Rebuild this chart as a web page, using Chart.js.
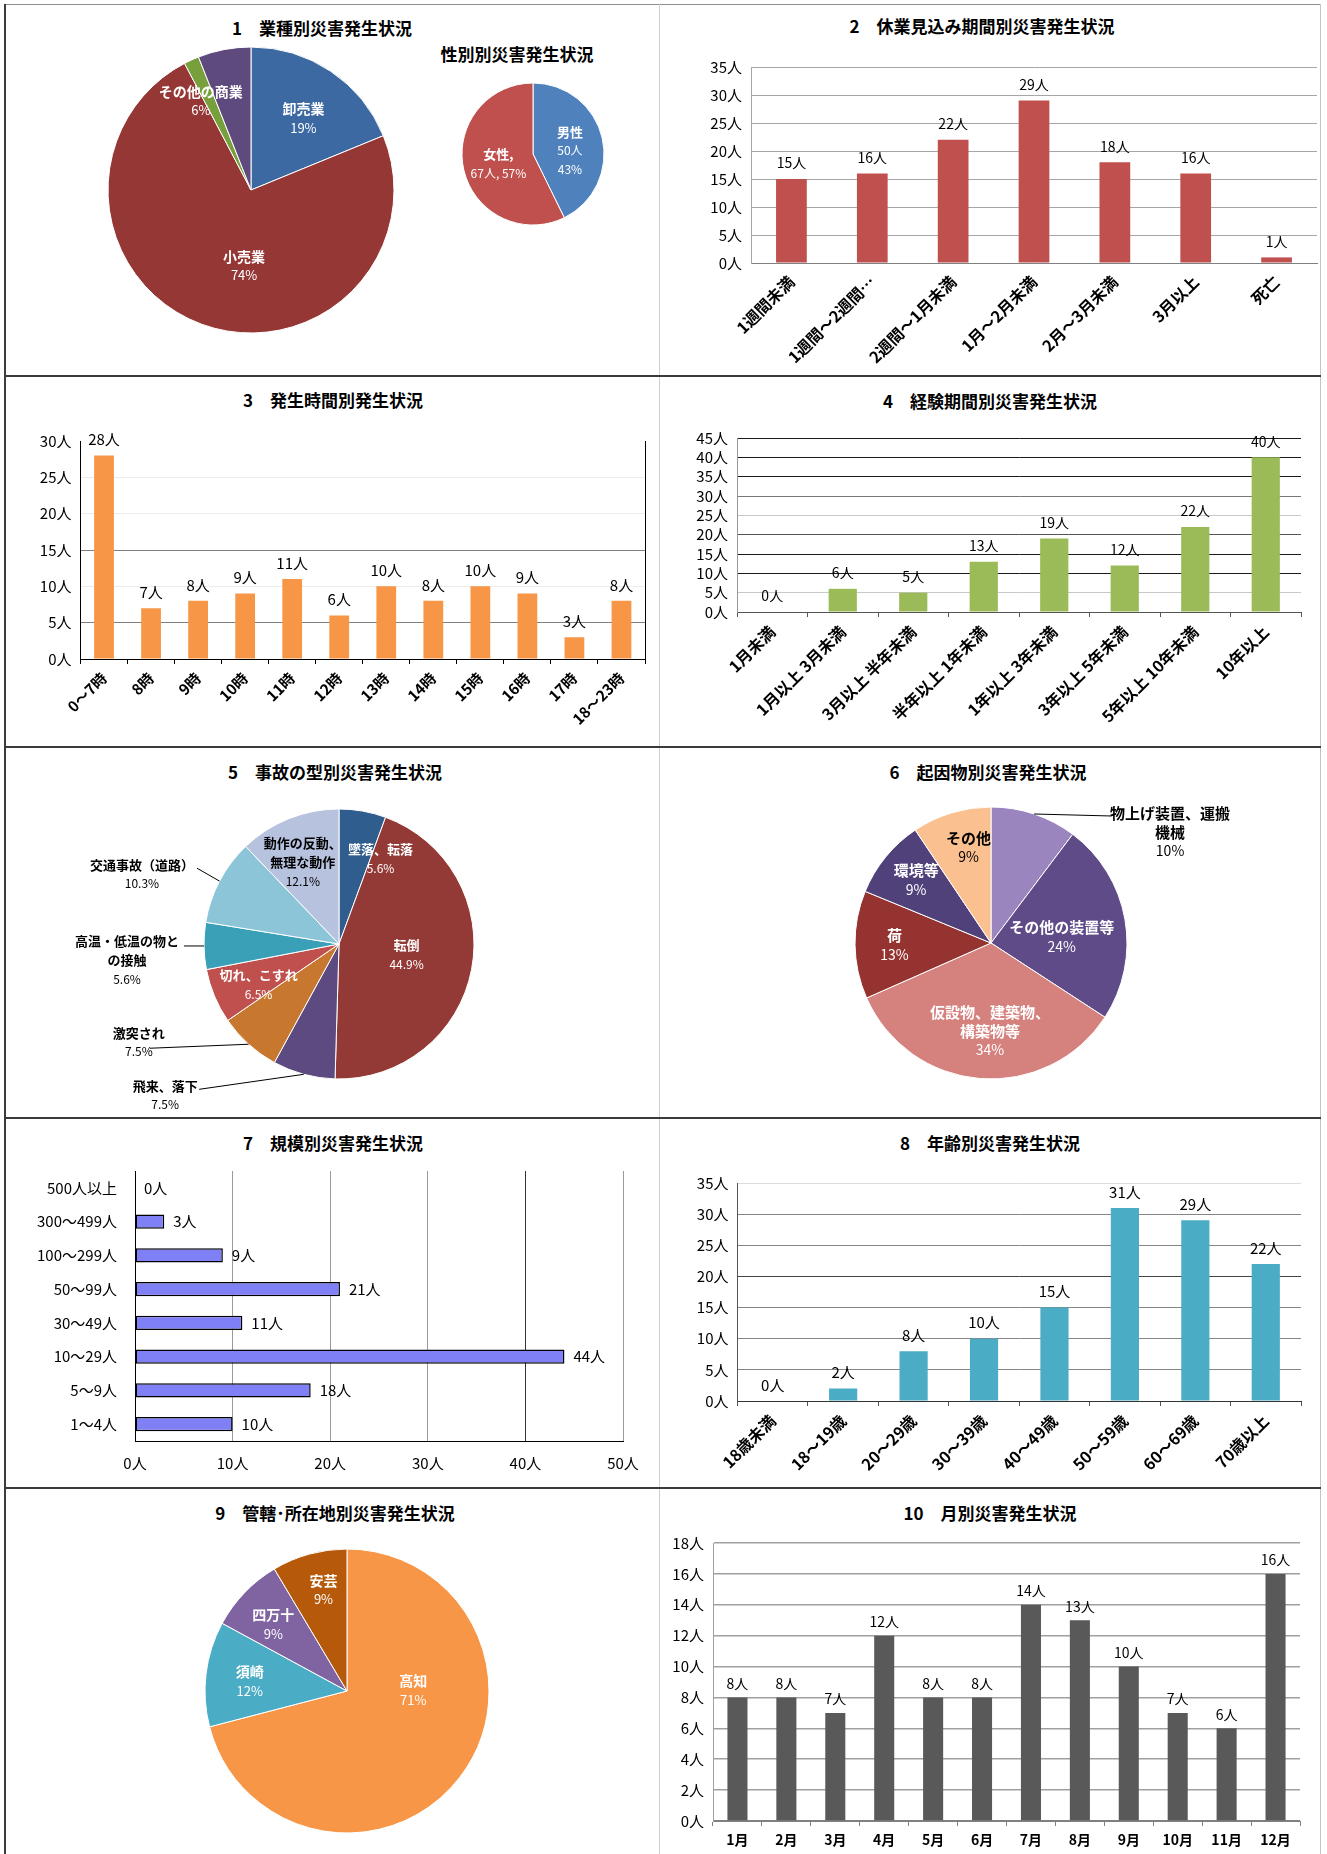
<!DOCTYPE html>
<html lang="ja">
<head>
<meta charset="utf-8">
<title>災害発生状況</title>
<script src="https://cdn.jsdelivr.net/npm/chart.js@4.4.1/dist/chart.umd.min.js"></script>
<style>
  html, body { margin: 0; padding: 0; background: #fff; }
  #sheet { position: relative; width: 1327px; height: 1854px; overflow: hidden; background: #fff; }
  #sheet canvas, #sheet .rule, #sheet .ttl { position: absolute; }
  .ttl { transform: translate(-50%, -50%); font: bold 17px 'Noto Sans CJK JP', sans-serif; color: #000; white-space: nowrap; }
</style>
</head>
<body>
<div id="sheet"></div>
<script>
// 1 業種別
const industryLabels = ['卸売業', '小売業', 'その他', 'その他の商業'];
const industryCounts = [22, 86, 2, 7];

// 性別
const sexLabels = ['男性', '女性'];
const sexCounts = [50, 67];

// 2 休業見込み期間別
const leaveLabels = ['1週間未満', '1週間～2週間…', '2週間～1月未満', '1月～2月未満', '2月～3月未満', '3月以上', '死亡'];
const leaveCounts = [15, 16, 22, 29, 18, 16, 1];
const leaveTicks = [0, 5, 10, 15, 20, 25, 30, 35];

// 3 発生時間別
const hourLabels = ['0～7時', '8時', '9時', '10時', '11時', '12時', '13時', '14時', '15時', '16時', '17時', '18～23時'];
const hourCounts = [28, 7, 8, 9, 11, 6, 10, 8, 10, 9, 3, 8];
const hourTicks = [0, 5, 10, 15, 20, 25, 30];

// 4 経験期間別
const careerLabels = ['1月未満', '1月以上 3月未満', '3月以上 半年未満', '半年以上 1年未満', '1年以上 3年未満', '3年以上 5年未満', '5年以上 10年未満', '10年以上'];
const careerCounts = [0, 6, 5, 13, 19, 12, 22, 40];
const careerTicks = [0, 5, 10, 15, 20, 25, 30, 35, 40, 45];

// 5 事故の型別
const accidentLabels = ['墜落、転落', '転倒', '飛来、落下', '激突され', '切れ、こすれ', ['高温・低温の物と', 'の接触'], '交通事故（道路）', ['動作の反動、', '無理な動作']];
const accidentCounts = [6, 48, 8, 8, 7, 6, 11, 13];

// 6 起因物別
const causeLabels = [['物上げ装置、運搬', '機械'], 'その他の装置等', ['仮設物、建築物、', '構築物等'], '荷', '環境等', 'その他'];
const causeCounts = [12, 28, 40, 15, 11, 11];

// 7 規模別
const sizeLabels = ['500人以上', '300～499人', '100～299人', '50～99人', '30～49人', '10～29人', '5～9人', '1～4人'];
const sizeCounts = [0, 3, 9, 21, 11, 44, 18, 10];
const sizeTicks = [0, 10, 20, 30, 40, 50];

// 8 年齢別
const ageLabels = ['18歳未満', '18～19歳', '20～29歳', '30～39歳', '40～49歳', '50～59歳', '60～69歳', '70歳以上'];
const ageCounts = [0, 2, 8, 10, 15, 31, 29, 22];
const ageTicks = [0, 5, 10, 15, 20, 25, 30, 35];

// 9 管轄・所在地別
const officeLabels = ['高知', '須崎', '四万十', '安芸'];
const officeCounts = [83, 14, 10, 10];

// 10 月別
const monthLabels = ['1月', '2月', '3月', '4月', '5月', '6月', '7月', '8月', '9月', '10月', '11月', '12月'];
const monthCounts = [8, 8, 7, 12, 8, 8, 14, 13, 10, 7, 6, 16];
const monthTicks = [0, 2, 4, 6, 8, 10, 12, 14, 16, 18];

const FONT = "'Noto Sans CJK JP', 'Noto Sans', sans-serif";
Chart.defaults.font.family = FONT;
Chart.defaults.color = '#000';
Chart.defaults.animation = false;
Chart.defaults.responsive = false;
Chart.defaults.plugins.legend.display = false;
Chart.defaults.plugins.tooltip.enabled = false;

// 枠の区切り位置
const COLS = [5, 660, 1321];
const ROWS = [5, 376, 747, 1118, 1488, 1854];

function cell(col, row) {
    return { x: COLS[col], y: ROWS[row], w: COLS[col + 1] - COLS[col], h: ROWS[row + 1] - ROWS[row] };
}

// 棒の上（横棒なら右）に「○人」
const valueLabels = {
    id: 'valueLabels',
    afterDatasetsDraw(chart, args, opts) {
        const { ctx } = chart;
        const horizontal = chart.options.indexAxis === 'y';
        const values = chart.data.datasets[0].data;
        ctx.save();
        ctx.font = `${opts.size || 14}px ${FONT}`;
        ctx.fillStyle = '#000';
        ctx.textBaseline = 'middle';
        chart.getDatasetMeta(0).data.forEach((bar, i) => {
            const text = values[i] + '人';
            if (horizontal) {
                ctx.textAlign = 'left';
                ctx.fillText(text, bar.x + (opts.gap || 9), bar.y);
            } else {
                ctx.textAlign = 'center';
                ctx.fillText(text, bar.x, bar.y - (opts.gap || 16));
            }
        });
        ctx.restore();
    }
};

// プロット右端の縦線
const plotFrame = {
    id: 'plotFrame',
    afterDraw(chart, args, opts) {
        if (!opts.right) return;
        const { ctx, chartArea: a } = chart;
        ctx.save();
        ctx.strokeStyle = opts.right;
        ctx.lineWidth = 1;
        ctx.beginPath();
        ctx.moveTo(Math.round(a.right) + 0.5, a.top);
        ctx.lineTo(Math.round(a.right) + 0.5, a.bottom);
        ctx.stroke();
        ctx.restore();
    }
};

// 円グラフのラベル（項目名＋割合、必要なら引出線）
const sliceLabels = {
    id: 'sliceLabels',
    afterDatasetsDraw(chart, args, opts) {
        const { ctx } = chart;
        const values = chart.data.datasets[0].data;
        const total = values.reduce((a, b) => a + b, 0);
        const names = chart.data.labels;
        ctx.save();
        ctx.textAlign = 'center';
        ctx.textBaseline = 'middle';
        chart.getDatasetMeta(0).data.forEach((arc, i) => {
            const spot = opts.spots[i];
            if (!spot) return;
            const { x, y, startAngle, endAngle, outerRadius } =
                arc.getProps(['x', 'y', 'startAngle', 'endAngle', 'outerRadius'], true);
            const mid = (startAngle + endAngle) / 2;
            const pct = (values[i] / total * 100).toFixed(opts.digits || 0) + '%';
            const name = [].concat(names[i]);
            let lines;
            if (spot.inline) {
                lines = [[name.join('') + ',', true], [`${values[i]}人, ${pct}`, false]];
            } else if (opts.showCount) {
                lines = [...name.map(n => [n, true]), [values[i] + '人', false], [pct, false]];
            } else {
                lines = [...name.map(n => [n, true]), [pct, false]];
            }

            let cx, cy;
            if (spot.leader) {
                const ex = x + Math.cos(mid) * outerRadius;
                const ey = y + Math.sin(mid) * outerRadius;
                ctx.strokeStyle = '#000';
                ctx.lineWidth = 1;
                ctx.beginPath();
                ctx.moveTo(ex, ey);
                ctx.lineTo(ex + spot.leader[0], ey + spot.leader[1]);
                ctx.stroke();
                cx = ex + spot.dx;
                cy = ey + spot.dy;
            } else {
                cx = x + Math.cos(mid) * outerRadius * spot.f + spot.dx;
                cy = y + Math.sin(mid) * outerRadius * spot.f + spot.dy;
            }

            ctx.fillStyle = opts.colors[i];
            lines.forEach(([text, bold], k) => {
                ctx.font = bold ? `bold ${opts.size}px ${FONT}` : `${opts.size - 1}px ${FONT}`;
                ctx.fillText(text, cx, cy + (k - (lines.length - 1) / 2) * opts.lineHeight);
            });
        });
        ctx.restore();
    }
};

const shade = (map, fallback) => v => (v in map ? map[v] : fallback);

class DisasterReport {
    constructor() {
        this.sheet = document.getElementById('sheet');
        this.charts = {};
        this.init();
    }

    init() {
        this.drawFrame();
        this.drawTitles();
        this.renderIndustry();
        this.renderSex();
        this.renderLeave();
        this.renderHours();
        this.renderCareer();
        this.renderAccidentType();
        this.renderCause();
        this.renderSize();
        this.renderAge();
        this.renderOffice();
        this.renderMonth();
    }

    canvas(box) {
        const c = document.createElement('canvas');
        c.width = box.w;
        c.height = box.h;
        c.style.left = box.x + 'px';
        c.style.top = box.y + 'px';
        this.sheet.appendChild(c);
        return c;
    }

    drawFrame() {
        const rules = [
            [5, 4, 1316, 1, '#8c8c8c'],
            [4, 4, 2, 1850, '#3c3c3c'],
            [1320, 4, 1, 1850, '#c4c4c4'],
            [659, 4, 1, 1850, '#cfcfcf'],
            ...ROWS.slice(1, -1).map(y => [4, y - 1, 1317, 2, '#3a3a3a'])
        ];
        rules.forEach(([x, y, w, h, color]) => {
            const d = document.createElement('div');
            d.className = 'rule';
            Object.assign(d.style, { left: x + 'px', top: y + 'px', width: w + 'px', height: h + 'px', background: color });
            this.sheet.appendChild(d);
        });
    }

    drawTitles() {
        const titles = [
            ['1　業種別災害発生状況', 322, 27],
            ['性別別災害発生状況', 517, 53],
            ['2　休業見込み期間別災害発生状況', 982, 25],
            ['3　発生時間別発生状況', 333, 399],
            ['4　経験期間別災害発生状況', 990, 400],
            ['5　事故の型別災害発生状況', 335, 771],
            ['6　起因物別災害発生状況', 988, 771],
            ['7　規模別災害発生状況', 333, 1142],
            ['8　年齢別災害発生状況', 990, 1142],
            ['9　管轄･所在地別災害発生状況', 335, 1512],
            ['10　月別災害発生状況', 990, 1512]
        ];
        titles.forEach(([text, x, y]) => {
            const d = document.createElement('div');
            d.className = 'ttl';
            d.textContent = text;
            d.style.left = x + 'px';
            d.style.top = y + 'px';
            this.sheet.appendChild(d);
        });
    }

    pieChart(box, center, radius, o) {
        const [cx, cy] = center;
        return new Chart(this.canvas(box), {
            type: 'pie',
            data: {
                labels: o.labels,
                datasets: [{
                    data: o.values,
                    backgroundColor: o.colors,
                    borderColor: '#ffffff',
                    borderWidth: 1,
                    radius: radius
                }]
            },
            options: {
                layout: {
                    padding: {
                        left: cx - radius - box.x,
                        top: cy - radius - box.y,
                        right: box.x + box.w - cx - radius,
                        bottom: box.y + box.h - cy - radius
                    }
                },
                plugins: {
                    sliceLabels: {
                        spots: o.spots,
                        colors: o.textColors,
                        size: o.size || 14,
                        lineHeight: o.lineHeight || 19,
                        digits: o.digits || 0,
                        showCount: !!o.showCount
                    }
                }
            },
            plugins: [sliceLabels]
        });
    }

    columnChart(box, plot, o) {
        const [l, t, r, b] = plot;
        const yWidth = l - box.x;
        const xHeight = box.y + box.h - b;
        return new Chart(this.canvas(box), {
            type: 'bar',
            data: {
                labels: o.labels,
                datasets: [{
                    data: o.values,
                    backgroundColor: o.color,
                    barPercentage: o.barPct,
                    categoryPercentage: 1
                }]
            },
            options: {
                layout: { padding: { left: 0, top: t - box.y, right: box.x + box.w - r, bottom: 0 } },
                plugins: {
                    valueLabels: { gap: o.gap || 16, size: o.valueSize || 14 },
                    plotFrame: { right: o.frameRight || null }
                },
                scales: {
                    x: {
                        grid: {
                            drawOnChartArea: false,
                            drawTicks: !!o.tickMarks,
                            tickLength: 5,
                            color: o.tickMarks || 'transparent'
                        },
                        border: { color: o.xBorder, width: 1 },
                        ticks: {
                            autoSkip: false,
                            minRotation: o.rotate || 0,
                            maxRotation: o.rotate || 0,
                            padding: o.xPad,
                            font: { size: o.xSize || 16, weight: 'bold' }
                        },
                        afterFit: s => { s.height = xHeight; }
                    },
                    y: {
                        min: o.ticks[0],
                        max: o.ticks[o.ticks.length - 1],
                        grid: {
                            drawTicks: false,
                            lineWidth: o.gridWidth || 1,
                            color: c => o.grid(c.tick ? c.tick.value : 0)
                        },
                        border: { color: o.yBorder, width: 1 },
                        ticks: {
                            autoSkip: false,
                            stepSize: o.ticks[1] - o.ticks[0],
                            padding: 9,
                            font: { size: 15 },
                            callback: v => v + '人'
                        },
                        afterFit: s => { s.width = yWidth; }
                    }
                }
            },
            plugins: [valueLabels, plotFrame]
        });
    }

    renderIndustry() {
        this.charts.industry = this.pieChart(cell(0, 0), [251, 190], 143, {
            labels: industryLabels,
            values: industryCounts,
            colors: ['#3d69a2', '#953735', '#77a03c', '#5f4a7d'],
            textColors: ['#fff', '#fff', '#fff', '#fff'],
            size: 14,
            spots: [
                { f: 0.62, dx: 3, dy: 2 },
                { f: 0.55, dx: 20, dy: 2 },
                null,
                { f: 0.72, dx: -31, dy: 12 }
            ]
        });
    }

    renderSex() {
        this.charts.sex = this.pieChart(cell(0, 0), [533, 154], 71, {
            labels: sexLabels,
            values: sexCounts,
            colors: ['#4f81bd', '#c0504d'],
            textColors: ['#fff', '#fff'],
            size: 13,
            showCount: true,
            spots: [
                { f: 0.52, dx: 1, dy: 5 },
                { f: 0.5, dx: 0, dy: 2, inline: true }
            ]
        });
    }

    renderLeave() {
        this.charts.leave = this.columnChart(cell(1, 0), [751, 67, 1317, 263], {
            labels: leaveLabels,
            values: leaveCounts,
            ticks: leaveTicks,
            color: '#c0504d',
            barPct: 0.38,
            grid: v => (v === 0 ? '#808080' : '#a6a6a6'),
            yBorder: '#a6a6a6',
            xBorder: '#808080',
            rotate: 45,
            xPad: 9
        });
    }

    renderHours() {
        this.charts.hours = this.columnChart(cell(0, 1), [80.5, 441, 645, 659], {
            labels: hourLabels,
            values: hourCounts,
            ticks: hourTicks,
            color: '#f79646',
            barPct: 0.42,
            valueSize: 15,
            grid: shade({ 0: '#000', 5: '#7f7f7f', 15: '#7f7f7f', 30: 'transparent' }, '#ececec'),
            yBorder: '#000',
            xBorder: '#000',
            tickMarks: '#000',
            frameRight: '#000',
            rotate: 45,
            xSize: 15,
            xPad: 5
        });
    }

    renderCareer() {
        this.charts.career = this.columnChart(cell(1, 1), [737, 438, 1301, 612], {
            labels: careerLabels,
            values: careerCounts,
            ticks: careerTicks,
            color: '#9bbb59',
            barPct: 0.4,
            grid: shade({ 0: '#555', 5: '#c8c8c8', 20: '#555', 25: '#c8c8c8', 30: '#777' }, '#1a1a1a'),
            yBorder: '#999',
            xBorder: '#555',
            tickMarks: '#555',
            rotate: 45,
            xPad: 5
        });
    }

    renderAccidentType() {
        this.charts.accident = this.pieChart(cell(0, 2), [339, 944], 135, {
            labels: accidentLabels,
            values: accidentCounts,
            colors: ['#2f5d8e', '#943a36', '#5d4a80', '#c8772f', '#c0504d', '#3aa0b8', '#8cc4d8', '#b6c2de'],
            textColors: ['#fff', '#fff', '#000', '#000', '#fff', '#000', '#000', '#000'],
            size: 13,
            digits: 1,
            spots: [
                { f: 0.70, dx: 25, dy: 8 },
                { f: 0.51, dx: 0, dy: -2 },
                { leader: [-104.6, 15], dx: -138.6, dy: 21 },
                { leader: [-98.7, 4], dx: -109.7, dy: -2 },
                { f: 0.67, dx: 3, dy: 6 },
                { leader: [-20, 0], dx: -77, dy: 14 },
                { leader: [-22.6, -13], dx: -77.6, dy: -7 },
                { f: 0.66, dx: -3, dy: 1 }
            ]
        });
    }

    renderCause() {
        this.charts.cause = this.pieChart(cell(1, 2), [991, 943], 136, {
            labels: causeLabels,
            values: causeCounts,
            colors: ['#9a85be', '#5e4b87', '#d5817e', '#943330', '#50417a', '#fac090'],
            textColors: ['#000', '#fff', '#fff', '#fff', '#fff', '#000'],
            size: 15,
            spots: [
                { leader: [77, 2], dx: 136, dy: 18 },
                { f: 0.52, dx: 1, dy: 6 },
                { f: 0.65, dx: 6, dy: 0 },
                { f: 0.71, dx: 0, dy: 1 },
                { f: 0.72, dx: 1, dy: -1 },
                { f: 0.72, dx: 6, dy: -2 }
            ]
        });
    }

    renderSize() {
        const box = cell(0, 3);
        const [l, t, r, b] = [135, 1171, 623, 1441];
        this.charts.size = new Chart(this.canvas(box), {
            type: 'bar',
            data: {
                labels: sizeLabels,
                datasets: [{
                    data: sizeCounts,
                    backgroundColor: '#8080f6',
                    borderColor: '#000',
                    borderWidth: 1.5,
                    borderSkipped: false,
                    barPercentage: 0.42,
                    categoryPercentage: 1
                }]
            },
            options: {
                indexAxis: 'y',
                layout: { padding: { left: 0, top: t - box.y, right: box.x + box.w - r, bottom: 0 } },
                plugins: { valueLabels: { gap: 9, size: 15 } },
                scales: {
                    x: {
                        min: sizeTicks[0],
                        max: sizeTicks[sizeTicks.length - 1],
                        grid: {
                            drawTicks: false,
                            color: c => shade({ 0: '#000', 40: '#333' }, '#9a9a9a')(c.tick ? c.tick.value : 0)
                        },
                        border: { color: '#000', width: 1 },
                        ticks: { stepSize: sizeTicks[1] - sizeTicks[0], padding: 13, font: { size: 15 }, callback: v => v + '人' },
                        afterFit: s => { s.height = box.y + box.h - b; }
                    },
                    y: {
                        grid: { display: false },
                        border: { color: '#000', width: 1 },
                        ticks: { autoSkip: false, padding: 10, font: { size: 15 } },
                        afterFit: s => { s.width = l - box.x; }
                    }
                }
            },
            plugins: [valueLabels]
        });
    }

    renderAge() {
        this.charts.age = this.columnChart(cell(1, 3), [737.5, 1183, 1301, 1401], {
            labels: ageLabels,
            values: ageCounts,
            ticks: ageTicks,
            color: '#4bacc6',
            barPct: 0.4,
            valueSize: 15,
            grid: shade({ 0: '#333', 20: '#444', 35: '#dcdcdc' }, '#858585'),
            yBorder: '#555',
            xBorder: '#333',
            tickMarks: '#555',
            rotate: 45,
            xPad: 5
        });
    }

    renderOffice() {
        this.charts.office = this.pieChart(cell(0, 4), [347, 1691], 142, {
            labels: officeLabels,
            values: officeCounts,
            colors: ['#f79646', '#4bacc6', '#8064a2', '#b7590a'],
            textColors: ['#fff', '#fff', '#fff', '#fff'],
            size: 14,
            spots: [
                { f: 0.465, dx: 14, dy: -41 },
                { f: 0.69, dx: 0, dy: 2 },
                { f: 0.70, dx: -2, dy: 2 },
                { f: 0.73, dx: 4, dy: -1 }
            ]
        });
    }

    renderMonth() {
        this.charts.month = this.columnChart(cell(1, 4), [713, 1543, 1300, 1821], {
            labels: monthLabels,
            values: monthCounts,
            ticks: monthTicks,
            color: '#595959',
            barPct: 0.41,
            gap: 14,
            gridWidth: 1.5,
            grid: v => (v === 0 ? '#808080' : '#a0a0a0'),
            yBorder: '#a0a0a0',
            xBorder: '#808080',
            tickMarks: '#808080',
            xSize: 14,
            xPad: 5
        });
    }
}

document.addEventListener('DOMContentLoaded', () => {
    new DisasterReport();
});
</script>
</body>
</html>
